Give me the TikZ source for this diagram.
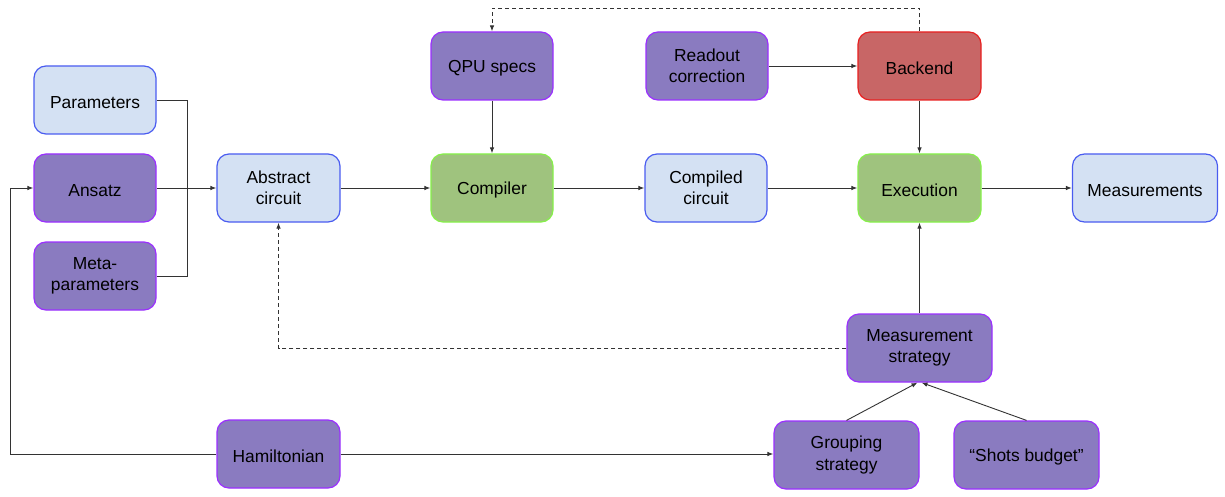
\documentclass[tikz,border=0pt]{standalone}
\usepackage{fontspec}
\setmainfont{Liberation Sans}
\usetikzlibrary{arrows.meta}
\definecolor{bluefill}{HTML}{D4E1F3}
\definecolor{blueline}{HTML}{4A5CF0}
\definecolor{purpfill}{HTML}{8A7BC0}
\definecolor{purpline}{HTML}{9B2FFF}
\definecolor{greenfill}{HTML}{9FC37E}
\definecolor{greenline}{HTML}{86F04A}
\definecolor{redfill}{HTML}{C86666}
\definecolor{redline}{HTML}{E82020}
\definecolor{linecol}{HTML}{333333}
\begin{document}
\begin{tikzpicture}[x=1pt,y=-1pt,
  box/.style={rounded corners=12pt, line width=1.2pt, minimum width=122pt, minimum height=68pt,
    align=center, inner sep=2pt, font=\fontsize{17.4}{21.5}\selectfont,
    execute at begin node={\rule{0pt}{16.3pt}}},
  bluebox/.style={box, fill=bluefill, draw=blueline},
  purpbox/.style={box, fill=purpfill, draw=purpline},
  greenbox/.style={box, fill=greenfill, draw=greenline},
  redbox/.style={box, fill=redfill, draw=redline},
  wide/.style={minimum width=145pt},
  conn/.style={draw=linecol, line width=0.9pt},
  arr/.style={conn, -{Latex[length=6pt,width=4.5pt]}},
  darr/.style={arr, dashed, dash pattern=on 4pt off 3pt}
]
\useasboundingbox (0,0) rectangle (1225,497);
\node[bluebox] (params) at (95,100) {Parameters};
\node[purpbox] (ansatz) at (95,188) {Ansatz};
\node[purpbox] (meta) at (95,276) {Meta-\\parameters};
\node[bluebox, minimum width=123pt] (abstract) at (278.5,188) {Abstract\\circuit};
\node[purpbox] (qpu) at (492,66) {QPU specs};
\node[greenbox] (compiler) at (492,188) {Compiler};
\node[purpbox] (readout) at (707,66) {Readout\\correction};
\node[bluebox] (compiled) at (706,188) {Compiled\\circuit};
\node[redbox, minimum width=123pt] (backend) at (919.5,66) {Backend};
\node[greenbox, minimum width=123pt] (execution) at (919.5,188) {Execution};
\node[bluebox, wide] (measurements) at (1145,188) {Measurements};
\node[purpbox, wide] (ms) at (919.5,348) {Measurement\\strategy};
\node[purpbox, wide] (grouping) at (846.5,455) {Grouping\\strategy};
\node[purpbox, wide] (shots) at (1026.5,455) {“Shots budget”};
\node[purpbox, minimum width=123pt] (hamiltonian) at (278.5,454) {Hamiltonian};

\coordinate (bus) at (187,188);
\coordinate (hamleft) at (10,454);
\coordinate (backtop) at (919.5,8);
\coordinate (mscorner) at (278.5,348);

\draw[conn] (params.east) -| (bus);
\draw[conn] (meta.east) -| (bus);
\draw[arr] (ansatz.east) -- (abstract.west);
\draw[arr] (abstract) -- (compiler);
\draw[arr] (qpu) -- (compiler);
\draw[arr] (compiler) -- (compiled);
\draw[arr] (compiled) -- (execution);
\draw[arr] (readout) -- (backend);
\draw[arr] (backend) -- (execution);
\draw[arr] (execution) -- (measurements);
\draw[arr] (ms) -- (execution);
\draw[arr] (grouping.north) -- ([xshift=-2pt]ms.south);
\draw[arr] (shots.north) -- ([xshift=2pt]ms.south);
\draw[arr] (hamiltonian.east) -- (hamiltonian.east -| grouping.west);
\draw[arr] (hamiltonian.west) -- (hamleft) |- (ansatz.west);
\draw[darr] (backend.north) -- (backtop) -| (qpu.north);
\draw[darr] (ms.west) -- (mscorner) -- (abstract.south);
\end{tikzpicture}
\end{document}
